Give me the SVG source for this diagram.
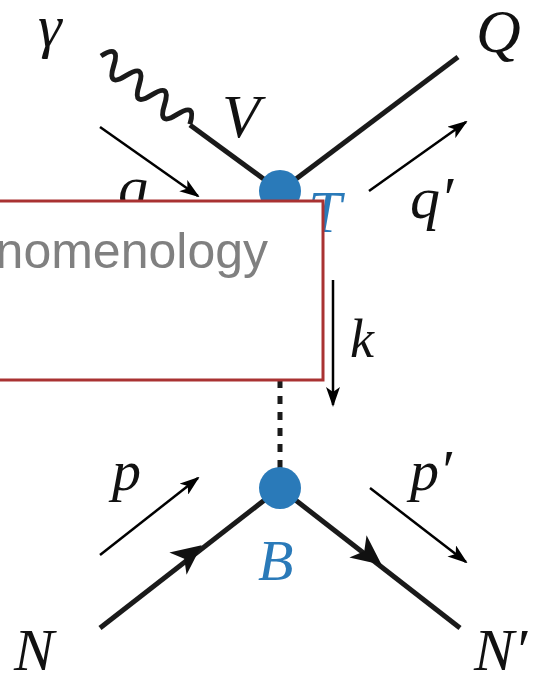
<svg xmlns="http://www.w3.org/2000/svg" width="558" height="681" viewBox="0 0 558 681">
<style>
.thick{stroke:#1a1a1a;stroke-width:5;fill:none;stroke-linecap:butt}
.thin{stroke:#000;stroke-width:2.5;fill:none}
.lbl{font-family:"Liberation Serif","DejaVu Serif",serif;font-style:italic;fill:#111}
.blue{fill:#2a7ab9}
</style>
<defs>
<marker id="ah" viewBox="0 0 20 14" refX="18" refY="7" markerWidth="20" markerHeight="14" markerUnits="userSpaceOnUse" orient="auto">
<path d="M0 0 L20 7 L0 14 L5 7 Z" fill="#000"/>
</marker>
<path id="fh" d="M-14 -14 L16 0 L-14 14 L-6 0 Z" fill="#111"/>
</defs>
<rect width="558" height="681" fill="#fff"/>
<g id="connectors">
<path class="thick" stroke-linejoin="round" stroke-linecap="round" d="M0 0 q8 -22 16 0 t16 0 t16 0 t16 0 t16 0 t16 0 t16 0" transform="translate(101,56) rotate(37.5)"/>
<line class="thick" x1="190" y1="125" x2="280" y2="191"/>
<line class="thick" x1="280" y1="191" x2="458" y2="57"/>
<line class="thick" x1="280" y1="380" x2="280" y2="468" stroke-dasharray="8 8"/>
<line class="thick" x1="100" y1="628" x2="280" y2="488"/>
<line class="thick" x1="280" y1="488" x2="460" y2="628"/>
<use href="#fh" transform="translate(189,555) rotate(-37.9)"/>
<use href="#fh" transform="translate(369,555) rotate(37.9)"/>
<line class="thin" x1="100" y1="127" x2="198" y2="196" marker-end="url(#ah)"/>
<line class="thin" x1="369" y1="191" x2="466" y2="122" marker-end="url(#ah)"/>
<line class="thin" x1="333" y1="280" x2="333" y2="405" marker-end="url(#ah)"/>
<line class="thin" x1="100" y1="555" x2="198" y2="478" marker-end="url(#ah)"/>
<line class="thin" x1="370" y1="488" x2="466" y2="562" marker-end="url(#ah)"/>
</g>
<g id="vertex-T">
<circle cx="280" cy="191" r="21" class="blue"/>
<text class="lbl" x="308" y="232" font-size="60" style="fill:#2a7ab9">T</text>
</g>
<g id="vertex-B">
<circle cx="280" cy="488" r="21" class="blue"/>
<text class="lbl" x="258" y="580" font-size="58" style="fill:#2a7ab9">B</text>
</g>
<g id="labels">
<text class="lbl" x="38" y="46" font-size="60">γ</text>
<text class="lbl" x="222" y="137" font-size="62">V</text>
<text class="lbl" x="476" y="52" font-size="62">Q</text>
<text class="lbl" x="118" y="207" font-size="60">q</text>
<text class="lbl" x="410" y="218" font-size="60">q′</text>
<text class="lbl" x="350" y="357" font-size="54">k</text>
<text class="lbl" x="112" y="490" font-size="58">p</text>
<text class="lbl" x="410" y="490" font-size="58">p′</text>
<text class="lbl" x="14" y="670" font-size="60">N</text>
<text class="lbl" x="474" y="670" font-size="60">N′</text>
</g>
<g id="box">
<rect x="-10" y="201" width="333" height="179" fill="#fff" stroke="#a93232" stroke-width="3"/>
<text x="268" y="268" text-anchor="end" font-family="Liberation Sans, Arial, sans-serif" font-size="50" fill="#808080">nomenology</text>
</g>
</svg>
